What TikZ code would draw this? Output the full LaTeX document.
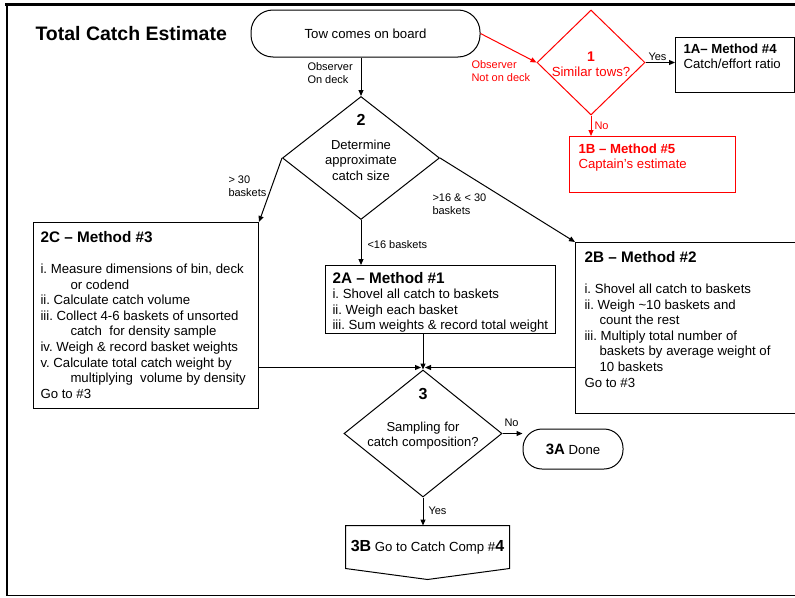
\documentclass[tikz,border=0pt]{standalone}
\usepackage{fontspec}
\setmainfont{Liberation Sans}
\usetikzlibrary{arrows.meta,shapes.geometric}
\frenchspacing
\newcommand\szbody{\fontsize{13.2pt}{15.6pt}\selectfont}
\newcommand\szlabel{\fontsize{11pt}{13pt}\selectfont}
\newcommand\szdiam{\fontsize{13pt}{15.6pt}\selectfont}
\newcommand\szhead{\bfseries\fontsize{15.3pt}{15.6pt}\selectfont}
\newcommand\sznum{\bfseries\fontsize{16pt}{16pt}\selectfont}
\begin{document}
\begin{tikzpicture}[x=1pt,y=-1pt,line width=1pt,>={Triangle[length=6pt,width=5pt]},
  every node/.style={inner sep=0pt,font=\szbody},
  box/.style={draw,rectangle,anchor=north west},
  decision/.style={draw,diamond,inner sep=0pt},
  lbl/.style={font=\szlabel,align=left,anchor=west}]
\useasboundingbox (0,0) rectangle (795,597);
% frame of the slide
\draw[line width=2.5pt] (5,4.3) -- (795,4.3);
\draw[line width=2.5pt] (7,3) -- (7,596);
\draw[line width=1.2pt] (6,595.5) -- (795,595.5);

\node[anchor=west,font=\bfseries\fontsize{19.5pt}{20pt}\selectfont] (title) at (35,34) {Total Catch Estimate};
\node[draw,rounded corners=22pt,minimum width=229pt,minimum height=47pt] (start) at (365.5,33.5) {Tow comes on board};

% decisions
\node[decision,red,minimum width=108pt,minimum height=105pt] (d1) at (591,62.5) {};
\node[anchor=north,align=center,red] (d1t) at (591,51) {{\bfseries\fontsize{14pt}{15.6pt}\selectfont 1}\\Similar tows?};
\node[decision,minimum width=157pt,minimum height=123pt] (d2) at (361,158) {};
\node[anchor=north,align=center,font=\szdiam] (d2t) at (361,114) {{\sznum 2}\\[8pt]Determine\\approximate\\catch size};
\node[decision,minimum width=158pt,minimum height=127pt] (d3) at (423,433.5) {};
\node[anchor=north,align=center,font=\szdiam] (d3t) at (423,388) {{\sznum 3}\\[16pt]Sampling for\\catch composition?};

% method boxes
\node[box,minimum width=119pt,minimum height=55pt] (m4) at (675,37) {};
\node[anchor=north west,align=left] (m4t) at (683,43) {\textbf{1A– Method \#4}\\Catch/effort ratio};
\node[box,red,minimum width=166pt,minimum height=56pt] (m5) at (569,136) {};
\node[anchor=north west,align=left,red] (m5t) at (578,143) {\textbf{1B – Method \#5}\\Captain’s estimate};
\node[box,minimum width=225pt,minimum height=186pt] (m3) at (33,222) {};
\node[anchor=north west,align=left] (m3t) at (40,231) {{\szhead 2C – Method \#3}\\[15.4pt]
  i. Measure dimensions of bin, deck\\
  \hspace*{30pt}or codend\\
  ii. Calculate catch volume\\
  iii. Collect 4-6 baskets of unsorted\\
  \hspace*{30pt}catch\ \ for density sample\\
  iv. Weigh \& record basket weights\\
  v. Calculate total catch weight by\\
  \hspace*{30pt}multiplying\ \ volume by density\\
  Go to \#3};
\node[box,minimum width=230pt,minimum height=68pt] (m1) at (325,265) {};
\node[anchor=north west,align=left] (m1t) at (332,271.5) {{\szhead 2A – Method \#1}\\
  i. Shovel all catch to baskets\\
  ii. Weigh each basket\\
  iii. Sum weights \& record total weight};
\node[box,minimum width=235pt,minimum height=171pt] (m2) at (575,242) {};
\node[anchor=north west,align=left] (m2t) at (584,251) {{\szhead 2B – Method \#2}\\[15.4pt]
  i. Shovel all catch to baskets\\
  ii. Weigh \textasciitilde10 baskets and\\
  \hspace*{15pt}count the rest\\
  iii. Multiply total number of\\
  \hspace*{15pt}baskets by average weight of\\
  \hspace*{15pt}10 baskets\\
  Go to \#3};

% end points
\node[draw,rounded corners=19pt,minimum width=100pt,minimum height=40pt] (m6) at (573,449) {{\bfseries\fontsize{15pt}{15pt}\selectfont 3A} Done};
\node[minimum width=163pt,minimum height=42pt] (m7) at (427.5,547) {{\sznum 3B} Go to Catch Comp \#{\sznum 4}};
\draw (m7.north west) -- (m7.north east) -- (m7.south east) -- ([shift={(0,11)}]m7.south) -- (m7.south west) -- cycle;

% connectors
\draw[->] (d2.north |- start.south) -- (d2.north);
\draw[->,red] (start.east) -- (d1.west);
\draw[->] (d1.east) -- (d1.east -| m4.west);
\draw[->,red] (d1.south) -- (d1.south |- m5.north);
\draw[->] (d2.west) -- (m3.north east);
\draw[->] (d2.south) -- (d2.south |- m1.north);
\draw[->] (d2.east) -- (m2.north west);
\draw[->] (d3.north |- m1.south) -- (d3.north);
\coordinate (j3) at ([shift={(0,-2)}]d3.north);
\draw[->] (m3.east |- j3) -- ([xshift=-2pt]j3);
\draw[->] (m2.west |- j3) -- ([xshift=2pt]j3);
\draw[->] (d3.east) -- (d3.east -| m6.west);
\draw[->] (d3.south) -- (d3.south |- m7.north);

% connector labels
\node[lbl] (lon) at (307,73.5) {Observer\\On deck};
\node[lbl,red] (loff) at (471,71.5) {Observer\\Not on deck};
\node[lbl] (lyes1) at (648,57) {Yes};
\node[lbl,red] (lno1) at (594,126) {No};
\node[lbl] (l30) at (228,186) {> 30\\baskets};
\node[lbl] (l16) at (367,245) {<16 baskets};
\node[lbl] (l1630) at (432,204.5) {>16 \& < 30\\baskets};
\node[lbl] (lno3) at (504,423) {No};
\node[lbl] (lyes3) at (428,511) {Yes};
\end{tikzpicture}
\end{document}
